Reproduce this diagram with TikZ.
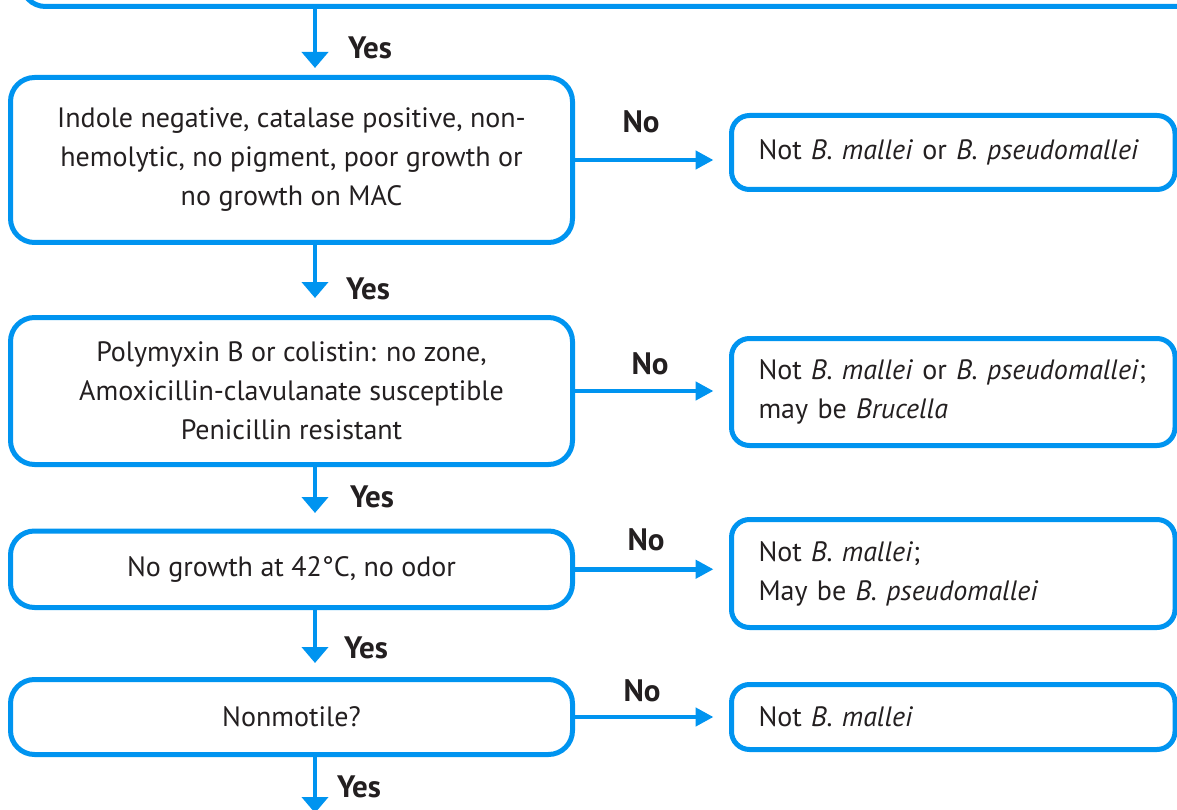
\documentclass[tikz,border=0pt]{standalone}
\usepackage{fontspec}
\setmainfont{PT Sans}
\usepackage{tikz}
\usetikzlibrary{arrows.meta}
\definecolor{flowblue}{RGB}{0,148,240}
\definecolor{ink}{RGB}{35,31,32}
\tikzset{>=latex}
\newcommand{\flowfont}{\fontsize{28}{39}\selectfont}
\tikzstyle{test} = [draw=flowblue, line width=5pt, rounded corners=24pt, outer sep=0, align=center, text=ink, minimum width=562pt]
\tikzstyle{result} = [draw=flowblue, line width=5pt, rounded corners=18pt, outer sep=0, align=left, text=ink, inner xsep=27pt, text width=389.5pt, anchor=west]
\tikzstyle{yesarrow} = [-{Triangle[length=16pt, width=26pt]}, draw=flowblue, fill=flowblue, line width=4.5pt]
\tikzstyle{noarrow} = [-{Triangle[length=18pt, width=18pt]}, draw=flowblue, fill=flowblue, line width=4.5pt, shorten >=18pt]
\tikzstyle{lab} = [font=\fontsize{31}{39}\selectfont\bfseries, text=ink, inner sep=0]

\begin{document}
\begin{tikzpicture}[x=1pt, y=-1pt, font=\flowfont]
\useasboundingbox (0, 0) rectangle (1177, 810);
\clip (0, 0) rectangle (1177, 810);
%\node [draw=none, font=\small] at (0, 0) {top};
\node [test, minimum width=1250pt, minimum height=120pt, anchor=south west] (top) at (21.5, 6.5) {};
\node [test, minimum height=165pt] (b2) at (291.5, 160) {Indole negative, catalase positive, non-\\hemolytic, no pigment, poor growth or\\no growth on MAC};
\node [test, minimum height=147pt] (b3) at (291.5, 391) {Polymyxin B or colistin: no zone,\\Amoxicillin-clavulanate susceptible\\Penicillin resistant};
\node [test, minimum height=76.5pt] (b4) at (291.5, 569.25) {No growth at 42°C, no odor};
\node [test, minimum height=75pt] (b5) at (291.5, 717) {Nonmotile?};
\node [result, minimum height=74pt] (r2) at (731.5, 152.5) {Not \textit{B. mallei} or \textit{B. pseudomallei}};
\node [result, minimum height=107pt] (r3) at (731.5, 392) {Not \textit{B. mallei} or \textit{B. pseudomallei};\\may be \textit{Brucella}};
\node [result, minimum height=108pt] (r4) at (731.5, 573.5) {Not \textit{B. mallei};\\May be \textit{B. pseudomallei}};
\node [result, minimum height=65pt] (r5) at (731.5, 717) {Not \textit{B. mallei}};
\coordinate (end) at (315, 813);
\draw [yesarrow, shorten >=9.5pt] (top.south -| 315, 0) to (b2.north -| 315, 0);
\draw [yesarrow, shorten >=19.5pt] (b2.south -| 315, 0) to (b3.north -| 315, 0);
\draw [yesarrow, shorten >=18pt] (b3.south -| 315, 0) to (b4.north -| 315, 0);
\draw [yesarrow, shorten >=16.5pt] (b4.south -| 315, 0) to (b5.north -| 315, 0);
\draw [yesarrow] (b5.south -| end) to (end);
\draw [noarrow] (b2.east) to (b2.east -| r2.west);
\draw [noarrow] (b3.east) to (b3.east -| r3.west);
\draw [noarrow] (b4.east) to (b4.east -| r4.west);
\draw [noarrow] (b5.east) to (b5.east -| r5.west);
\node [lab] (y1) at (370, 48) {Yes};
\node [lab] (y2) at (368, 289) {Yes};
\node [lab] (y3) at (372, 497) {Yes};
\node [lab] (y4) at (366, 648) {Yes};
\node [lab] (y5) at (359, 787) {Yes};
\node [lab] (n2) at (641, 122) {No};
\node [lab] (n3) at (650, 364) {No};
\node [lab] (n4) at (646, 540) {No};
\node [lab] (n5) at (642, 691) {No};
\end{tikzpicture}
\end{document}
